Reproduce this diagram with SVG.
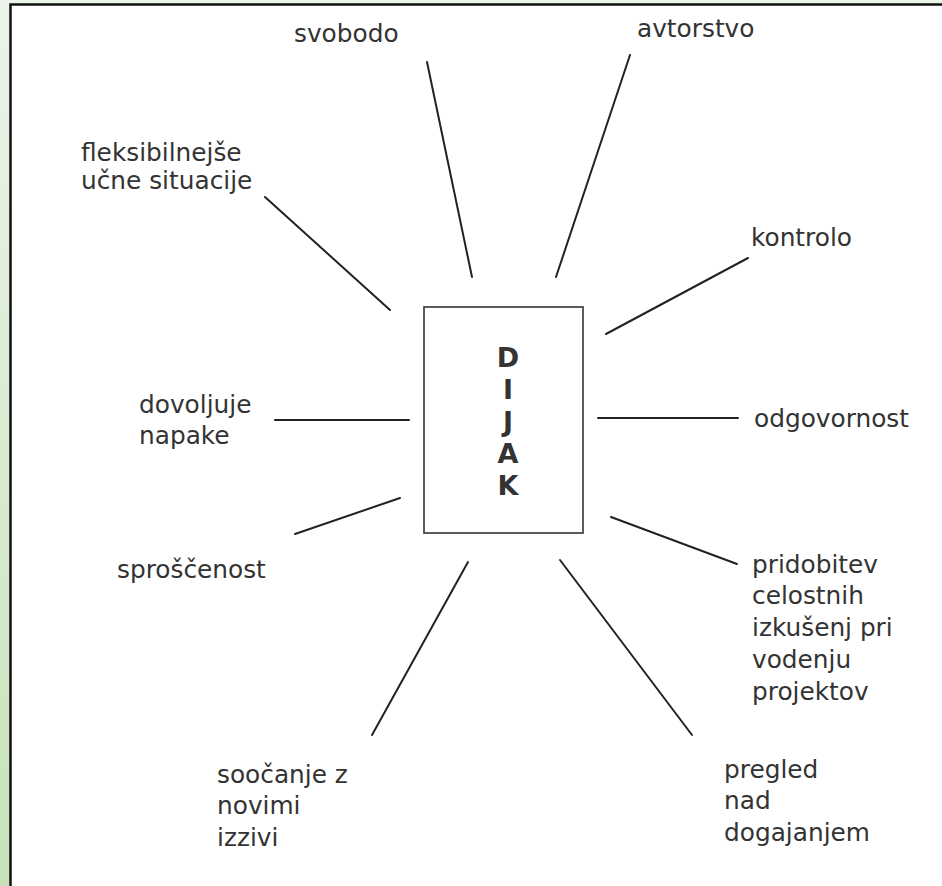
<svg xmlns="http://www.w3.org/2000/svg" width="942" height="886" viewBox="0 0 942 886">
<defs>
<linearGradient id="bg" x1="0" y1="0" x2="0" y2="1">
<stop offset="0" stop-color="#ecf4ea"/>
<stop offset="1" stop-color="#c7e2ba"/>
</linearGradient>
<style>
.lbl{font-family:"DejaVu Sans",sans-serif;font-size:24.8px;fill:#333}
.ttl{font-family:"DejaVu Sans",sans-serif;font-size:27px;font-weight:bold;fill:#333;text-anchor:middle}
.con line{stroke:#222;stroke-width:2;stroke-linecap:round}
</style>
</defs>
<rect x="0" y="0" width="942" height="886" fill="url(#bg)"/>
<rect x="10" y="4" width="932" height="882" fill="#fff"/>
<path d="M10.5 886 V4.5 H942" fill="none" stroke="#111" stroke-width="2.5"/>
<g id="connectors" class="con">
<line x1="427" y1="62" x2="472" y2="277"/>
<line x1="630" y1="55" x2="556" y2="277"/>
<line x1="265" y1="197" x2="390" y2="310"/>
<line x1="748" y1="258" x2="606" y2="334"/>
<line x1="275" y1="420" x2="409" y2="420"/>
<line x1="598" y1="418" x2="738" y2="418"/>
<line x1="295" y1="534" x2="400" y2="498"/>
<line x1="611" y1="517" x2="737" y2="564"/>
<line x1="468" y1="562" x2="372" y2="735"/>
<line x1="560" y1="560" x2="692" y2="735"/>
</g>
<g id="dijak">
<rect x="424" y="307" width="159" height="226" fill="#fff" stroke="#333" stroke-width="1.6"/>
<text class="ttl" x="508" y="367">D</text>
<text class="ttl" x="508" y="399">I</text>
<text class="ttl" x="508" y="431">J</text>
<text class="ttl" x="508" y="463">A</text>
<text class="ttl" x="508" y="495">K</text>
</g>
<g id="svobodo"><text class="lbl" x="294" y="42">svobodo</text></g>
<g id="avtorstvo"><text class="lbl" x="637" y="37">avtorstvo</text></g>
<g id="fleksibilnejse"><text class="lbl" x="81" y="161">fleksibilnejše</text><text class="lbl" x="81" y="189">učne situacije</text></g>
<g id="kontrolo"><text class="lbl" x="751" y="246">kontrolo</text></g>
<g id="dovoljuje"><text class="lbl" x="139" y="413">dovoljuje</text><text class="lbl" x="139" y="444">napake</text></g>
<g id="odgovornost"><text class="lbl" x="754" y="427">odgovornost</text></g>
<g id="sproscenost"><text class="lbl" x="117" y="578">sproščenost</text></g>
<g id="pridobitev"><text class="lbl" x="752" y="573">pridobitev</text><text class="lbl" x="752" y="604">celostnih</text><text class="lbl" x="752" y="636">izkušenj pri</text><text class="lbl" x="752" y="668">vodenju</text><text class="lbl" x="752" y="700">projektov</text></g>
<g id="soocanje"><text class="lbl" x="217" y="783">soočanje z</text><text class="lbl" x="217" y="814">novimi</text><text class="lbl" x="217" y="846">izzivi</text></g>
<g id="pregled"><text class="lbl" x="724" y="778">pregled</text><text class="lbl" x="724" y="809">nad</text><text class="lbl" x="724" y="841">dogajanjem</text></g>
</svg>
